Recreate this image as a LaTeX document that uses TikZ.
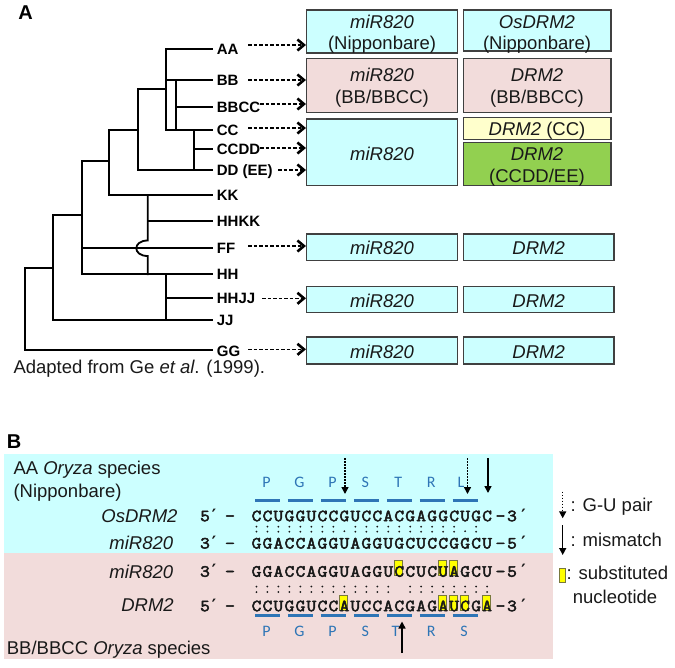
\documentclass[tikz,border=0pt]{standalone}
\usepackage{fontspec}
\setmainfont{Liberation Sans}
\newfontfamily\calfont{Carlito}
\newfontfamily\djm{DejaVu Sans Mono}
\newfontfamily\seqf{Latin Modern Mono}[FakeBold=3,FakeStretch=1.12]
\usetikzlibrary{arrows.meta}
\definecolor{cybox}{RGB}{204,255,255}
\definecolor{pkbox}{RGB}{242,220,219}
\definecolor{ylbox}{RGB}{255,255,204}
\definecolor{gnbox}{RGB}{146,208,80}
\definecolor{bord}{RGB}{64,64,64}
\definecolor{aablue}{RGB}{46,117,182}
\definecolor{hilite}{RGB}{255,255,0}
\definecolor{hiedge}{RGB}{120,120,60}
\definecolor{txt}{RGB}{25,25,25}
\begin{document}
\begin{tikzpicture}[x=1pt,y=-1pt,
  tree/.style={line width=1.8pt, line join=miter, line cap=rect},
  darr/.style={line width=1.3pt, dash pattern=on 3.5pt off 2pt,
     -{Straight Barb[length=6.5pt,width=11pt,line width=2.6pt]}},
  box/.style={draw=bord, line width=1.1pt, inner sep=0pt},
  bt/.style={inner sep=0pt, text height=13.2pt, text depth=0pt, text=txt,
     font=\fontsize{18.5pt}{20pt}\selectfont},
  tlab/.style={inner sep=0pt, anchor=west, text height=10.7pt, text depth=0pt,
     font=\fontsize{15pt}{17pt}\selectfont\bfseries},
  panel/.style={inner sep=0pt, text height=14.3pt, text depth=0pt,
     font=\fontsize{20pt}{22pt}\selectfont\bfseries},
  seq/.style={inner sep=0pt, text height=10.4pt, text depth=0pt, text=txt,
     font=\seqf\bfseries\fontsize{17pt}{19pt}\selectfont},
  primec/.style={inner sep=0pt, text height=10.4pt, text depth=0pt, text=txt,
     font=\djm\bfseries\fontsize{17pt}{19pt}\selectfont},
  aa/.style={inner sep=0pt, text height=10.3pt, text depth=0pt, text=aablue,
     font=\calfont\fontsize{16pt}{18pt}\selectfont},
  bar/.style={line width=3pt, aablue},
  hl/.style={draw=hiedge, fill=hilite, line width=0.6pt, inner sep=0pt,
     minimum width=8pt, minimum height=15pt},
  solarr/.style={line width=1.5pt, -{Triangle[length=7pt,width=7pt]}},
  dotarr/.style={line width=1.5pt, dash pattern=on 1.5pt off 1.5pt,
     -{Triangle[length=7pt,width=7pt]}},
]
\useasboundingbox (0,0) rectangle (675,667);
\fill[white] (0,0) rectangle (675,667);

% ---------------- Panel A ----------------
\node[panel] (pA) at (25.5,12) {A};

% tree
\draw[tree] (212.3,49.3) -- (165.7,49.3) -- (165.7,130) -- (212.3,130);
\draw[tree] (165.7,80) -- (212.3,80);
\draw[tree] (175.7,80) -- (175.7,130);
\draw[tree] (175.7,107.3) -- (212.3,107.3);
\draw[tree] (194.3,130) -- (194.3,170);
\draw[tree] (194.3,149) -- (212.3,149);
\draw[tree] (165.7,89.3) -- (137.7,89.3) -- (137.7,170) -- (212.3,170);
\draw[tree] (137.7,130) -- (109,130) -- (109,195) -- (212.3,195);
\draw[tree] (109,161.3) -- (81.7,161.3) -- (81.7,274.3) -- (212.3,274.3);
\draw[tree] (147.7,195) -- (147.7,240.5) .. controls (132.5,240.5) and (132.5,256) .. (147.7,256) -- (147.7,274.3);
\draw[tree] (147.7,220.7) -- (212.3,220.7);
\draw[tree] (81.7,248.3) -- (212.3,248.3);
\draw[tree] (81.7,215) -- (53.3,215) -- (53.3,320) -- (212.3,320);
\draw[tree] (166,274.3) -- (166,320);
\draw[tree] (166,298.3) -- (212.3,298.3);
\draw[tree] (53.3,267.7) -- (25,267.7) -- (25,350) -- (212.3,350);

% tree labels
\node[tlab] (lAA) at (216.7,49) {AA};
\node[tlab] (lBB) at (216.7,80) {BB};
\node[tlab] (lBBCC) at (216.7,107.5) {BBCC};
\node[tlab] (lCC) at (216.7,130) {CC};
\node[tlab] (lCCDD) at (216.7,149) {CCDD};
\node[tlab] (lDD) at (216.7,170) {DD (EE)};
\node[tlab] (lKK) at (216.7,195) {KK};
\node[tlab] (lHHKK) at (216.7,221) {HHKK};
\node[tlab] (lFF) at (216.7,248.3) {FF};
\node[tlab] (lHH) at (216.7,274.3) {HH};
\node[tlab] (lHHJJ) at (216.7,298.3) {HHJJ};
\node[tlab] (lJJ) at (216.7,320) {JJ};
\node[tlab] (lGG) at (216.7,351.5) {GG};

\node[bt, anchor=west] (cap) at (13.3,366.7) {Adapted from Ge \textit{et al}. (1999).};

% boxes
\node[box, fill=cybox, minimum width=151pt, minimum height=43pt] (b1) at (382,31.5) {};
\node[box, fill=cybox, minimum width=147.5pt, minimum height=41pt] (b2) at (537.25,30.5) {};
\node[box, fill=pkbox, minimum width=151pt, minimum height=54pt] (b3) at (382,85.5) {};
\node[box, fill=pkbox, minimum width=147.5pt, minimum height=54pt] (b4) at (537.25,85.5) {};
\node[box, fill=cybox, minimum width=151pt, minimum height=66.5pt] (b5) at (382,152.25) {};
\node[box, fill=ylbox, minimum width=147.5pt, minimum height=22pt] (b6) at (537.25,128.5) {};
\node[box, fill=gnbox, minimum width=147.5pt, minimum height=43pt] (b7) at (537.25,164) {};
\node[box, fill=cybox, minimum width=151pt, minimum height=26.5pt] (b8) at (382,247.25) {};
\node[box, fill=cybox, minimum width=150.5pt, minimum height=26.5pt] (b9) at (538.75,247.25) {};
\node[box, fill=cybox, minimum width=151pt, minimum height=26pt] (b10) at (382,299.6) {};
\node[box, fill=cybox, minimum width=150.5pt, minimum height=26pt] (b11) at (538.75,299.6) {};
\node[box, fill=cybox, minimum width=151pt, minimum height=27pt] (b12) at (382,350.5) {};
\node[box, fill=cybox, minimum width=150.5pt, minimum height=27pt] (b13) at (538.75,350.5) {};

% box texts
\node[bt] (t1a) at (382,21.7) {\textit{miR820}};
\node[bt] (t1b) at (382,43.3) {(Nipponbare)};
\node[bt] (t2a) at (537,21.5) {\textit{OsDRM2}};
\node[bt] (t2b) at (537,42.5) {(Nipponbare)};
\node[bt] (t3a) at (382,75) {\textit{miR820}};
\node[bt] (t3b) at (382,96.7) {(BB/BBCC)};
\node[bt] (t4a) at (537,75) {\textit{DRM2}};
\node[bt] (t4b) at (537,96.7) {(BB/BBCC)};
\node[bt] (t5) at (382,154) {\textit{miR820}};
\node[bt] (t6) at (537,128.5) {\textit{DRM2} (CC)};
\node[bt] (t7a) at (537,154) {\textit{DRM2}};
\node[bt] (t7b) at (537,176) {(CCDD/EE)};
\node[bt] (t8) at (382,248) {\textit{miR820}};
\node[bt] (t9) at (538.7,248) {\textit{DRM2}};
\node[bt] (t10) at (382,300.5) {\textit{miR820}};
\node[bt] (t11) at (538.7,300.5) {\textit{DRM2}};
\node[bt] (t12) at (382,351.5) {\textit{miR820}};
\node[bt] (t13) at (538.7,351.5) {\textit{DRM2}};

% dashed arrows
\coordinate (sAA) at (248,45);
\coordinate (sBB) at (248,80);
\coordinate (sBBCC) at (260,104);
\coordinate (sCC) at (248,128);
\coordinate (sCCDD) at (260,148);
\coordinate (sDD) at (278,170);
\coordinate (sFF) at (248,246);
\coordinate (sHHJJ) at (262,298.3);
\coordinate (sGG) at (248,349.3);
\draw[darr] (sAA) -- (sAA -| b1.west);
\draw[darr] (sBB) -- (sBB -| b3.west);
\draw[darr] (sBBCC) -- (sBBCC -| b3.west);
\draw[darr] (sCC) -- (sCC -| b5.west);
\draw[darr] (sCCDD) -- (sCCDD -| b5.west);
\draw[darr] (sDD) -- (sDD -| b5.west);
\draw[darr] (sFF) -- (sFF -| b8.west);
\draw[darr] (sHHJJ) -- (sHHJJ -| b10.west);
\draw[darr] (sGG) -- (sGG -| b12.west);

% ---------------- Panel B ----------------
\node[panel] (pB) at (14,441.5) {B};
\fill[cybox] (4,454) rectangle (552.7,553);
\fill[pkbox] (4,553) rectangle (552.7,659);

\node[bt, anchor=west] (sp1) at (13.3,468) {AA \textit{Oryza} species};
\node[bt, anchor=west] (sp2) at (13.3,490.7) {(Nipponbare)};
\node[bt] (n1) at (139.5,516) {\textit{OsDRM2}};
\node[bt] (n2) at (141.3,543.3) {\textit{miR820}};
\node[bt] (n3) at (141.3,571.5) {\textit{miR820}};
\node[bt] (n4) at (147.5,605) {\textit{DRM2}};
\node[bt, anchor=west] (sp3) at (6.7,648.3) {BB/BBCC \textit{Oryza} species};

% end labels
\foreach \yy/\d/\e [count=\k] in {516/5/3, 543.3/3/5, 571.5/3/5, 606/5/3} {
  \node[seq] (l\k a) at (205,\yy) {\d};
  \node[primec] (l\k b) at (214,\yy) {′};
  \node[seq] (l\k c) at (230,\yy) {\textendash};
  \node[seq] (r\k a) at (500.5,\yy) {\textendash};
  \node[seq] (r\k b) at (512,\yy) {\e};
  \node[primec] (r\k c) at (523.5,\yy) {′};
}

% highlights
\foreach \i in {13,17,18}
  \node[hl] (h3-\i) at ({255.5+10.98*\i},567.5) {};
\foreach \i in {8,17,18,19,21}
  \node[hl] (h4-\i) at ({255.5+10.98*\i},602.5) {};

% sequences
\foreach \c [count=\i from 0] in {C,C,U,G,G,U,C,C,G,U,C,C,A,C,G,A,G,G,C,U,G,C}
  \node[seq] (q1-\i) at ({256.49+10.98*\i},516) {\c};
\foreach \c [count=\i from 0] in {G,G,A,C,C,A,G,G,U,A,G,G,U,G,C,U,C,C,G,G,C,U}
  \node[seq] (q2-\i) at ({256.49+10.98*\i},543.3) {\c};
\foreach \c [count=\i from 0] in {G,G,A,C,C,A,G,G,U,A,G,G,U,C,C,U,C,U,A,G,C,U}
  \node[seq] (q3-\i) at ({256.49+10.98*\i},571.5) {\c};
\foreach \c [count=\i from 0] in {C,C,U,G,G,U,C,C,A,U,C,C,A,C,G,A,G,A,U,C,G,A}
  \node[seq] (q4-\i) at ({256.49+10.98*\i},606) {\c};

% pairing dots
\foreach \t [count=\i from 0] in {2,2,2,2,2,2,2,2,1,2,2,2,2,2,2,2,2,2,2,1,2,0} {
  \pgfmathsetmacro\xx{256.49+10.98*\i}
  \ifnum\t=2 \fill[txt] (\xx,526.7) circle (1pt) (\xx,531.7) circle (1pt); \fi
  \ifnum\t=1 \fill[txt] (\xx,531.2) circle (1pt); \fi
}
\foreach \t [count=\i from 0] in {2,2,2,2,2,2,2,2,2,2,2,2,2,0,2,2,2,2,2,2,2,2} {
  \pgfmathsetmacro\xx{256.49+10.98*\i}
  \ifnum\t=2 \fill[txt] (\xx,586.5) circle (1pt) (\xx,592) circle (1pt); \fi
}

% codon bars and amino acids
\foreach \a [count=\k from 0] in {P,G,P,S,T,R,L} {
  \draw[bar] ({251+32.94*\k+4},500.5) -- ({251+32.94*(\k+1)-4},500.5);
}
\foreach \a/\ax [count=\k from 0] in {P/266.5,G/299.4,P/332.4,S/365.3,T/398.3,R/431.2,L/461} {
  \node[aa] (ta\k) at (\ax,482) {\a};
}
\foreach \a [count=\k from 0] in {P,G,P,S,T,R,S} {
  \draw[bar] ({251+32.94*\k+4},615.5) -- ({251+32.94*(\k+1)-4},615.5);
}
\foreach \a/\ax [count=\k from 0] in {P/266.5,G/299.4,P/332.4,S/365.3,T/395.5,R/431.2,S/464.1} {
  \node[aa] (ba\k) at (\ax,631) {\a};
}

% vertical arrows
\coordinate (v1s) at (345,458);  \coordinate (v1e) at (345,494);
\coordinate (v2s) at (467.5,458); \coordinate (v2e) at (467.5,494);
\coordinate (v3s) at (488,458);  \coordinate (v3e) at (488,493);
\coordinate (v4s) at (402,653);  \coordinate (v4e) at (402,621.5);
\draw[dotarr] (v1s) -- (v1e);
\draw[dotarr] (v2s) -- (v2e);
\draw[solarr] (v3s) -- (v3e);
\draw[solarr] (v4s) -- (v4e);

% legend
\coordinate (g1s) at (562.7,491.7); \coordinate (g1e) at (562.7,518.3);
\coordinate (g2s) at (562.7,525);   \coordinate (g2e) at (562.7,555);
\draw[dotarr] (g1s) -- (g1e);
\draw[solarr] (g2s) -- (g2e);
\node[bt, anchor=west] (gt1) at (570.5,505) {: G-U pair};
\node[bt, anchor=west] (gt2) at (570.5,540) {: mismatch};
\node[hl, minimum width=6pt, minimum height=14pt] (gbox) at (562,575) {};
\node[bt, anchor=west] (gt3) at (566.5,573.3) {: substituted};
\node[bt, anchor=west] (gt4) at (572.7,596.7) {nucleotide};
\end{tikzpicture}
\end{document}
